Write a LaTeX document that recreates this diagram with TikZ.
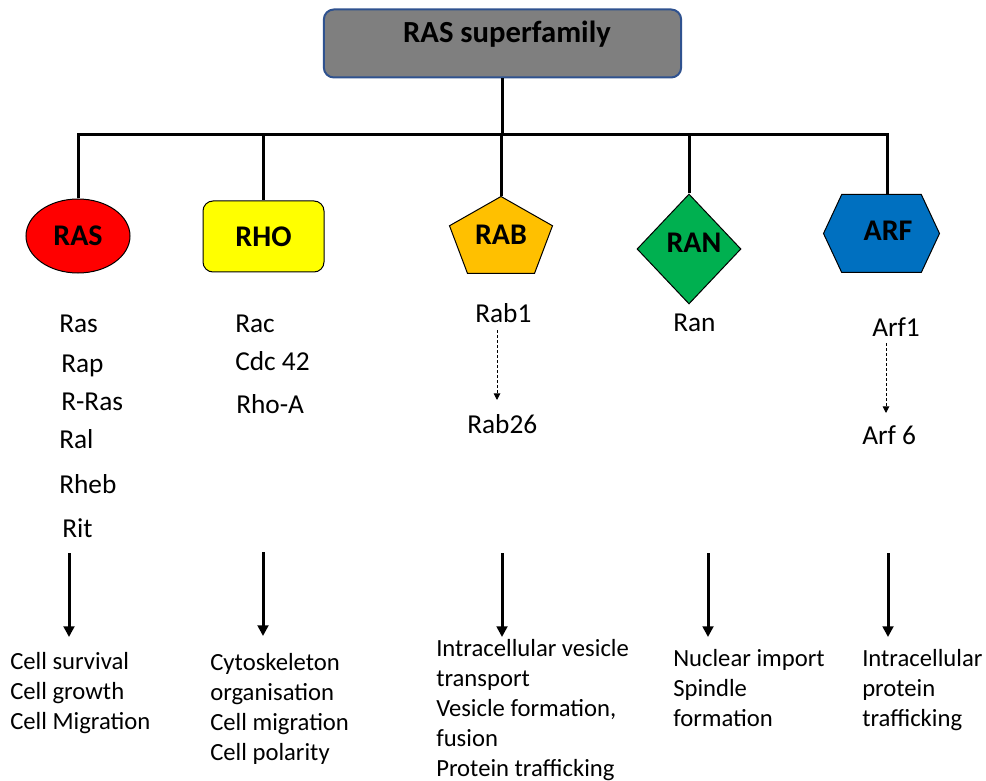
\documentclass[tikz,border=0pt]{standalone}
\usepackage{fontspec}
\setmainfont{Carlito}
\usetikzlibrary{shapes.geometric,arrows.meta,calc,backgrounds}
\definecolor{rasred}{HTML}{FF0000}
\definecolor{rhoyellow}{HTML}{FFFF00}
\definecolor{rabgold}{HTML}{FFC000}
\definecolor{rangreen}{HTML}{00B050}
\definecolor{arfblue}{HTML}{0070C0}
\definecolor{topgray}{HTML}{7F7F7F}
\definecolor{topborder}{HTML}{2F528F}
\begin{document}
\begin{tikzpicture}[x=0.75pt,y=-0.75pt,
  trunk/.style={line width=2.25pt},
  famlabel/.style={font=\fontsize{22.5}{27}\selectfont\bfseries, inner sep=0pt, line width=0.75pt},
  gene/.style={font=\fontsize{20.5}{24}\selectfont, anchor=base west, inner sep=0pt},
  role/.style={font=\fontsize{18.5}{22.4}\selectfont, anchor=base west, inner sep=0pt, align=left},
  bigarrow/.style={line width=2.25pt, -{Triangle[width=8pt,length=8pt]}},
  dasharrow/.style={line width=0.75pt, dash pattern=on 2.25pt off 1.5pt, -{Triangle[width=5pt,length=5pt]}}
]
\useasboundingbox (0,0) rectangle (986,781);

% title
\node[draw=topborder, fill=topgray, line width=1.5pt, rounded corners=7.5pt,
      minimum width=268pt, minimum height=51pt,
      font=\fontsize{23}{27}\selectfont\bfseries, text height=16pt, text depth=17pt]
      (top) at (502.5,43.5) {\hspace*{6.75pt}RAS superfamily};

% family shapes
\node[ellipse, draw, fill=rasred, minimum width=78pt, minimum height=55.5pt, famlabel] (ras) at (78,236) {RAS};
\node[rectangle, rounded corners=7.5pt, draw, fill=rhoyellow, minimum width=90.75pt, minimum height=53.25pt, famlabel] (rho) at (263.5,236.5) {RHO};
\node[minimum width=76.5pt, minimum height=57pt, famlabel] (rab) at (501,235) {RAB};
\node[diamond, draw, fill=rangreen, minimum width=78pt, minimum height=82.5pt, famlabel] (ran) at (689,249) {\hspace*{7.5pt}\raisebox{9pt}{RAN}};
\node[minimum width=86.25pt, minimum height=57.75pt, famlabel] (arf) at (881.5,233.5) {\hspace*{9.75pt}\raisebox{4.5pt}{ARF}};

\begin{scope}[on background layer]
  \filldraw[fill=rabgold, line width=0.75pt]
    (rab.north) -- ($(rab.north east)!0.38!(rab.south east)$)
    -- ($(rab.south east)!0.175!(rab.south west)$)
    -- ($(rab.south west)!0.175!(rab.south east)$)
    -- ($(rab.north west)!0.38!(rab.south west)$) -- cycle;
  \filldraw[fill=arfblue, line width=0.75pt]
    ($(arf.north west)!0.157!(arf.north east)$)
    -- ($(arf.north east)!0.157!(arf.north west)$)
    -- (arf.east)
    -- ($(arf.south east)!0.157!(arf.south west)$)
    -- ($(arf.south west)!0.157!(arf.south east)$)
    -- (arf.west) -- cycle;
\end{scope}

% trunk
\coordinate (j1) at (78,135);
\coordinate (j2) at (263,135);
\coordinate (j3) at (501,135);
\coordinate (j4) at (689,135);
\coordinate (j5) at (887,135);
\draw[trunk] (ras.north) -- (j1) -- (j5) -- (j5 |- arf.north);
\draw[trunk] (top.south) -- (top.south |- j3);
\draw[trunk] (j2) -- (j2 |- rho.north);
\draw[trunk] (j3) -- (rab.north);
\draw[trunk] (j4) -- (ran.north);

% member lists
\node[gene] (g1) at (59,332) {Ras};
\node[gene] (g2) at (61,372) {Rap};
\node[gene] (g3) at (61,410) {R-Ras};
\node[gene] (g4) at (59,448) {Ral};
\node[gene] (g5) at (59,493) {Rheb};
\node[gene] (g6) at (62,537) {Rit};

\node[gene] (h1) at (235,332) {Rac};
\node[gene] (h2) at (235,370) {Cdc 42};
\node[gene] (h3) at (236,413) {Rho-A};

\node[gene] (rab1) at (475,322) {Rab1};
\node[gene] (rab26) at (467,433) {Rab26};
\node[gene] (ran1) at (673,331) {Ran};
\node[gene] (arf1) at (872,336) {Arf1};
\node[gene] (arf6) at (862,444) {Arf 6};

\coordinate (d1s) at (497,330);
\coordinate (d1e) at (497,400);
\coordinate (d2s) at (886,343);
\coordinate (d2e) at (886,413);
\draw[dasharrow] (d1s) -- (d1e);
\draw[dasharrow] (d2s) -- (d2e);

% big arrows
\coordinate (a1s) at (69,553);  \coordinate (a1e) at (69,637);
\coordinate (a2s) at (263,552); \coordinate (a2e) at (263,636);
\coordinate (a3s) at (502,553); \coordinate (a3e) at (502,637);
\coordinate (a4s) at (708,553); \coordinate (a4e) at (708,637);
\coordinate (a5s) at (888,553); \coordinate (a5e) at (888,637);
\draw[bigarrow] (a1s) -- (a1e);
\draw[bigarrow] (a2s) -- (a2e);
\draw[bigarrow] (a3s) -- (a3e);
\draw[bigarrow] (a4s) -- (a4e);
\draw[bigarrow] (a5s) -- (a5e);

% roles (base anchor = baseline of last line)
\node[role] (r1) at (10,729) {Cell survival\\Cell growth\\Cell Migration};
\node[role] (r2) at (210,760) {Cytoskeleton\\organisation\\Cell migration\\Cell polarity};
\node[role] (r3) at (436,776) {Intracellular vesicle\\transport\\Vesicle formation,\\fusion\\Protein trafficking};
\node[role] (r4) at (673,726) {Nuclear import\\Spindle\\formation};
\node[role] (r5) at (862,726) {Intracellular\\protein\\trafficking};
\end{tikzpicture}
\end{document}
